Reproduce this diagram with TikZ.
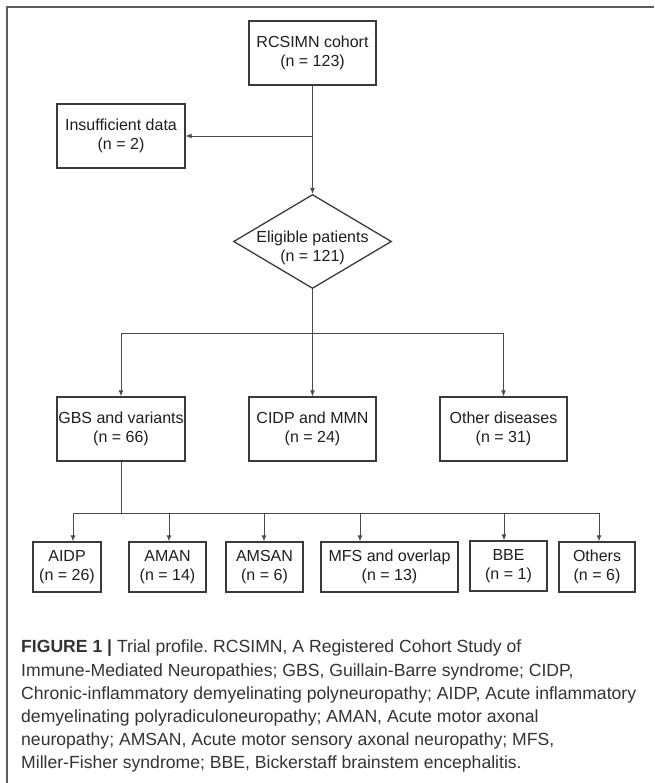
\documentclass[tikz,border=0pt]{standalone}
\usepackage{fontspec}
\setmainfont{Liberation Sans}
\usetikzlibrary{shapes.geometric,arrows.meta}
\definecolor{framegray}{HTML}{5C5C5C}
\definecolor{boxgray}{HTML}{3A3A3A}
\definecolor{linkgray}{HTML}{4A4A4A}
\definecolor{textblack}{HTML}{1E1E1E}
\definecolor{captiongray}{HTML}{333333}
\frenchspacing
\begin{document}
\begin{tikzpicture}[x=1pt,y=-1pt,
    boxtext/.style={text=textblack, align=center, font=\fontsize{16}{19.5}\selectfont},
    box/.style={boxtext, draw=boxgray, line width=1.3pt, inner sep=0pt, minimum height=64pt},
    smallbox/.style={box, minimum height=50pt},
    decision/.style={draw=boxgray, line width=1.3pt, diamond, inner sep=0pt,
      minimum width=158pt, minimum height=94pt},
    link/.style={draw=linkgray, line width=0.9pt},
    arr/.style={link, -{Latex[length=6pt,width=5pt]}}]
  \useasboundingbox (0,0) rectangle (654,783);

  % frame
  \draw[framegray, line width=2pt] (7,783) -- (7,7) -- (654,7);

  % upper part
  \node[box, minimum width=127pt] (cohort) at (312.5,53) {RCSIMN cohort\\(n = 123)};
  \node[box, minimum width=128pt] (insufficient) at (121,136) {Insufficient data\\(n = 2)};
  \node[decision, label={[boxtext, yshift=-6.5pt]center:Eligible patients\\(n = 121)}]
    (eligible) at (312.5,241.5) {};

  \coordinate (split) at (312.5,136);
  \draw[arr] (cohort) -- (eligible);
  \draw[arr] (split) -- (insufficient);

  % disease groups
  \node[box, minimum width=128pt] (gbs) at (121,429) {GBS and variants\\(n = 66)};
  \node[box, minimum width=127pt] (cidp) at (312.5,429) {CIDP and MMN\\(n = 24)};
  \node[box, minimum width=127pt] (otherdis) at (503.5,429) {Other diseases\\(n = 31)};

  \coordinate (fork) at (312.5,333);
  \draw[arr] (eligible) -- (cidp);
  \draw[arr] (fork) -| (gbs);
  \draw[arr] (fork) -| (otherdis);

  % GBS subtypes
  \node[smallbox, minimum width=68pt] (aidp) at (67,567) {AIDP\\(n = 26)};
  \node[smallbox, minimum width=77pt] (aman) at (167.5,567) {AMAN\\(n = 14)};
  \node[smallbox, minimum width=77pt] (amsan) at (264.5,567) {AMSAN\\(n = 6)};
  \node[smallbox, minimum width=137pt] (mfs) at (389.5,567) {MFS and overlap\\(n = 13)};
  \node[smallbox, minimum width=77pt] (bbe) at (508.5,566) {BBE\\(n = 1)};
  \node[smallbox, minimum width=76pt] (others) at (597,567) {Others\\(n = 6)};

  \foreach \n/\x in {aidp/73, aman/169, amsan/264, mfs/360, bbe/504, others/599} {
    \coordinate (t-\n) at (\x,513);
    \draw[arr] (t-\n) -- (t-\n |- \n.north);
  }
  \draw[link] (gbs.south) -- (gbs.south |- t-aidp);
  \draw[link] (t-aidp) -- (t-others);

  % caption
  \node[anchor=north west, inner sep=0pt, align=left, text=captiongray,
    font=\fontsize{17.6}{23.2}\selectfont] (caption) at (21,640)
    {\textbf{FIGURE 1 |} Trial profile. RCSIMN, A Registered Cohort Study of\\
     Immune-Mediated Neuropathies; GBS, Guillain-Barre syndrome; CIDP,\\
     Chronic-inflammatory demyelinating polyneuropathy; AIDP, Acute inflammatory\\
     demyelinating polyradiculoneuropathy; AMAN, Acute motor axonal\\
     neuropathy; AMSAN, Acute motor sensory axonal neuropathy; MFS,\\
     Miller-Fisher syndrome; BBE, Bickerstaff brainstem encephalitis.};
\end{tikzpicture}
\end{document}
